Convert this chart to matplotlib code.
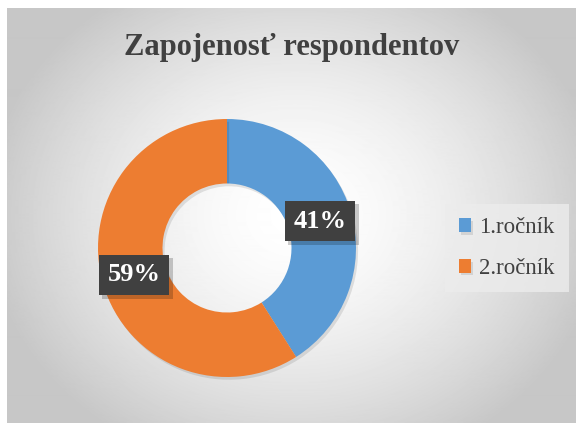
import numpy as np
import matplotlib
matplotlib.use('Agg')
import matplotlib.pyplot as plt
import matplotlib.patheffects as pe

# data
title = 'Zapojenosť respondentov'
categories = ['1.ročník', '2.ročník']
shares = [41, 59]
colors = ['#5B9BD5', '#ED7D31']

plt.rcParams['font.family'] = ['Liberation Serif', 'DejaVu Serif']

W, H = 576, 423
fig = plt.figure(figsize=(W / 100, H / 100), dpi=100)
fig.patch.set_facecolor('white')

# chart area background with radial gradient (Excel style)
x0, y0 = 7, 8
bg = fig.add_axes([x0 / W, 0, (W - x0) / W, (H - y0) / H])
yy, xx = np.mgrid[y0:H, x0:W]
d = np.sqrt(((xx - 295) / 310.0) ** 2 + ((yy - 215) / 265.0) ** 2)
shade = 1.0 - 0.22 * np.clip(d, 0, 1) ** 1.6
bg.imshow(shade, cmap='gray', vmin=0, vmax=1, aspect='auto', interpolation='bilinear')
bg.set_axis_off()

# donut
cx, cy, r = 227, 248, 129
ax = fig.add_axes([(cx - r) / W, (H - cy - r) / H, 2 * r / W, 2 * r / H])
wedges, texts, autotexts = ax.pie(
    shares, colors=colors, startangle=90, counterclock=False,
    radius=1.0, wedgeprops=dict(width=0.5, edgecolor='none'),
    autopct=lambda p: '%d%%' % round(p), pctdistance=0.75, frame=False)
ax.set_xlim(-1, 1)
ax.set_ylim(-1, 1)
ax.set_aspect('auto')

for w in wedges:
    w.set_path_effects([pe.SimplePatchShadow(offset=(1.5, -2), shadow_rgbFace='k', alpha=0.1),
                        pe.Normal()])

for t in autotexts:
    t.set_color('white')
    t.set_fontsize(19)
    t.set_fontweight('bold')
    t.set_bbox(dict(boxstyle='square,pad=0.33', facecolor='#404040',
                    edgecolor='#404040', linewidth=0))
    t.get_bbox_patch().set_path_effects([
        pe.SimplePatchShadow(offset=(2.5, -2.5), shadow_rgbFace='k', alpha=0.2),
        pe.Normal()])

# legend
leg = fig.legend(wedges, categories, loc='center left',
                 bbox_to_anchor=(445 / W, 1 - 248 / H),
                 prop=dict(size=16.5), frameon=True, fancybox=False,
                 handlelength=0.55, handleheight=0.55, handletextpad=0.35,
                 labelspacing=0.85, borderpad=0.6, borderaxespad=0)
leg.get_frame().set_facecolor('#ececec')
leg.get_frame().set_edgecolor('none')
leg.get_frame().set_alpha(0.8)
for txt in leg.get_texts():
    txt.set_color('#404040')

fig.text((x0 + W) / 2 / W, 1 - 47 / H, title, ha='center', va='center',
         fontsize=22, fontweight='bold', color='#404040')

fig.savefig('out.png', dpi=100)
